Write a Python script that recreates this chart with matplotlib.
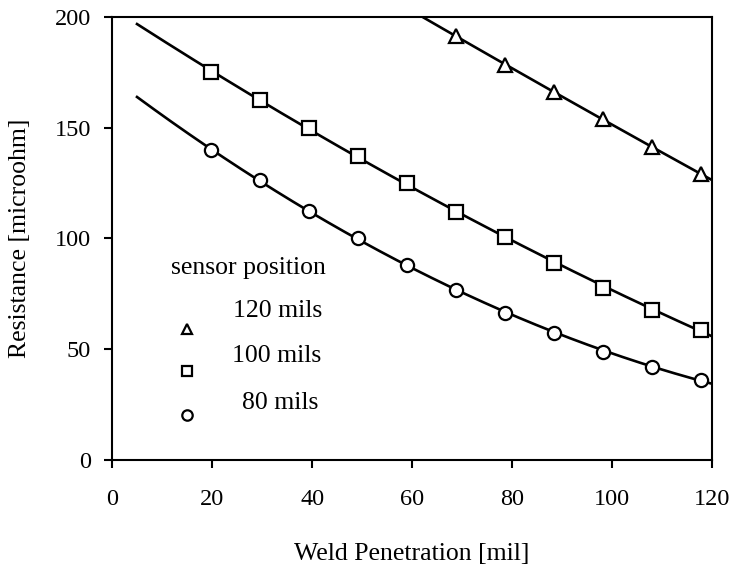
import matplotlib
import matplotlib.pyplot as plt
import numpy as np

matplotlib.use('Agg')
plt.rcParams['font.family'] = ['Liberation Serif', 'DejaVu Serif']

# weld penetration [mil] at the measured points
pen = [19.8, 29.6, 39.4, 49.2, 59.0, 68.8, 78.6, 88.4, 98.2, 108.0, 117.8]
# resistance [microohm], one list per sensor position
r80 = [139.8, 126.2, 112.2, 100.0, 88.2, 76.9, 66.5, 57.5, 48.9, 42.1, 36.2]
r100 = [175.1, 162.4, 149.8, 137.1, 124.9, 111.8, 100.5, 89.1, 77.8, 67.9, 58.8]
pen120 = [68.8, 78.6, 88.4, 98.2, 108.0, 117.8]
r120 = [191.4, 178.3, 166.1, 153.8, 141.2, 129.0]

labels = ['120 mils', '100 mils', '80 mils']

fig = plt.figure(figsize=(7.32, 5.65), dpi=100)
ax = fig.add_axes([0.153, 0.186, 0.820, 0.784])

# quadratic trend lines through the measured points
xx = np.linspace(5, 120, 200)
for x, y, m in [(pen, r80, 'o'), (pen, r100, 's'), (pen120, r120, '^')]:
    c = np.polyfit(x, y, 2)
    ax.plot(xx, np.polyval(c, xx), 'k-', lw=1.9, zorder=2)
    ax.plot(x, y, ls='none', marker=m, ms=9.5, mfc='white', mec='k', mew=1.6,
            zorder=3, clip_on=False)

ax.set_xlim(0, 120)
ax.set_ylim(0, 200)
ax.set_xticks(np.arange(0, 121, 20))
ax.set_yticks(np.arange(0, 201, 50))
for s in ax.spines.values():
    s.set_linewidth(1.5)
ax.tick_params(direction='out', length=6, width=1.5, labelsize=17.5)
ax.tick_params(axis='x', pad=15)
ax.tick_params(axis='y', pad=9)
ax.set_xlabel('Weld Penetration [mil]', fontsize=18.5, labelpad=24)
ax.set_ylabel('Resistance [microohm]', fontsize=18.5, labelpad=17)

# legend drawn by hand
ax.text(0.227, 0.433, 'sensor position', transform=ax.transAxes,
        ha='center', va='center', fontsize=18.5)
for m, ym, yt, xt, lab in [('^', 0.296, 0.336, 0.202, labels[0]),
                           ('s', 0.201, 0.235, 0.200, labels[1]),
                           ('o', 0.102, 0.129, 0.217, labels[2])]:
    ax.plot([0.125], [ym], transform=ax.transAxes, marker=m, ms=7.5,
            mfc='white', mec='k', mew=1.6, ls='none')
    ax.text(xt, yt, lab, transform=ax.transAxes, ha='left', va='center',
            fontsize=18.5)

fig.savefig('out.png', dpi=100)
plt.close(fig)
